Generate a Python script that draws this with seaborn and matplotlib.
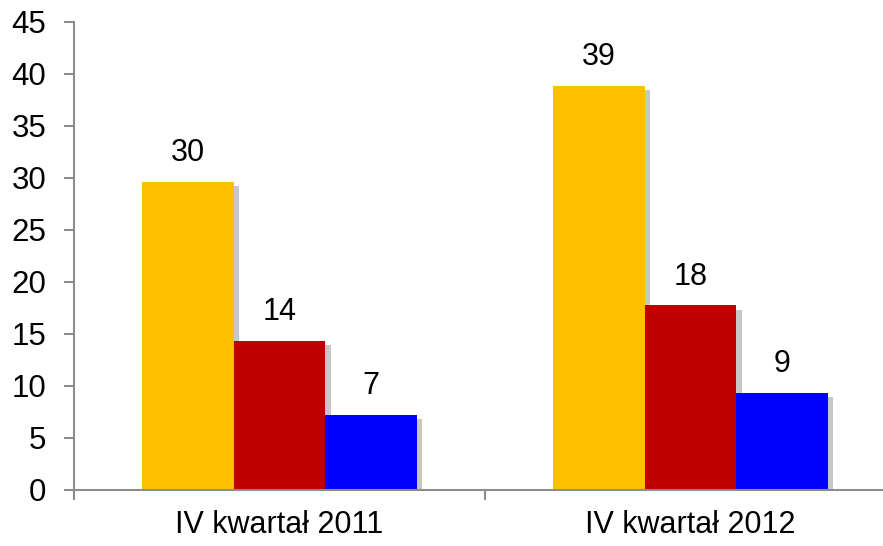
import pandas as pd
import numpy as np
import seaborn as sns
import matplotlib.pyplot as plt
import matplotlib.patheffects as pe
from matplotlib.ticker import FixedLocator

# wartości
kwartaly = ['IV kwartał 2011', 'IV kwartał 2012']
serie = ['A', 'B', 'C']
wartosci_a = [29.6, 38.8]
wartosci_b = [14.3, 17.7]
wartosci_c = [7.2, 9.3]
etykiety_a = ['30', '39']
etykiety_b = ['14', '18']
etykiety_c = ['7', '9']
kolory = ['#FFC000', '#C00000', '#0000FF']

df = pd.DataFrame({
    'kwartal': kwartaly * 3,
    'seria': np.repeat(serie, len(kwartaly)),
    'wartosc': wartosci_a + wartosci_b + wartosci_c,
})

sns.set_style('white')
plt.rcParams['font.family'] = ['Liberation Sans', 'DejaVu Sans']
plt.rcParams['text.color'] = 'black'
plt.rcParams['xtick.color'] = 'black'
plt.rcParams['ytick.color'] = 'black'

fig = plt.figure(figsize=(8.83, 5.46), dpi=100)
ax = fig.add_axes([74 / 883, 56.5 / 546, 1 - 74 / 883, 468 / 546])

sns.barplot(data=df, x='kwartal', y='wartosc', hue='seria', palette=kolory,
            width=0.668, gap=0, saturation=1, legend=False, ax=ax,
            linewidth=0)

# cień pod słupkami
for bar in ax.patches:
    bar.set_path_effects([pe.SimplePatchShadow(offset=(4, -3), shadow_rgbFace='black', alpha=0.22),
                          pe.Normal()])

for cont, lab in zip(ax.containers, [etykiety_a, etykiety_b, etykiety_c]):
    ax.bar_label(cont, labels=lab, padding=10, fontsize=22, color='black')

ax.set_xlim(-0.5, 1.468)
ax.set_ylim(0, 45)
ax.set_yticks(range(0, 46, 5))
ax.set_xlabel('')
ax.set_ylabel('')

sns.despine(ax=ax)
for s in ['left', 'bottom']:
    ax.spines[s].set_color('#8C8C8C')
    ax.spines[s].set_linewidth(1.5)

ax.tick_params(axis='y', length=7, width=1.5, color='#8C8C8C', pad=13,
               labelsize=22.5, left=True, labelcolor='black')
ax.tick_params(axis='x', which='major', length=0, pad=15, labelsize=22,
               labelcolor='black')
ax.xaxis.set_minor_locator(FixedLocator([-0.5, 0.5]))
ax.tick_params(axis='x', which='minor', length=7, width=1.5, color='#8C8C8C',
               bottom=True)

fig.savefig('out.png', dpi=100)
